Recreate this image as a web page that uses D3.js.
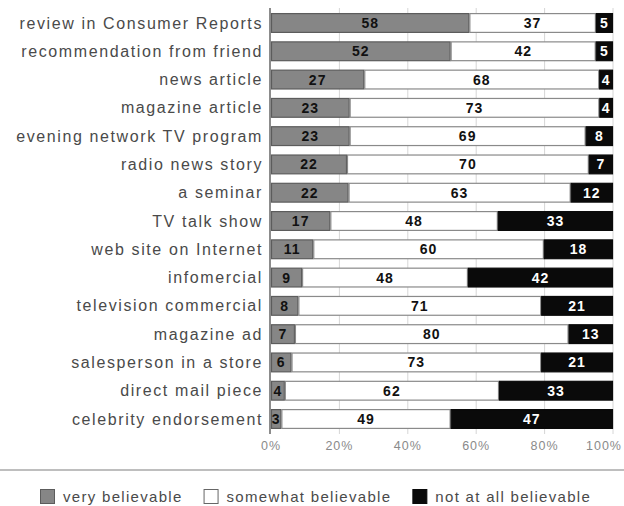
<!DOCTYPE html>
<html>
<head>
<meta charset="utf-8">
<script src="https://cdn.jsdelivr.net/npm/d3@7"></script>
<style>
  body { margin: 0; background: #fff; }
  text { font-family: "Liberation Sans", Arial, sans-serif; }
</style>
</head>
<body>
<div id="chart"></div>
<script>
// data (percent of respondents)
const categories = [
  "review in Consumer Reports", "recommendation from friend", "news article",
  "magazine article", "evening network TV program", "radio news story",
  "a seminar", "TV talk show", "web site on Internet", "infomercial",
  "television commercial", "magazine ad", "salesperson in a store",
  "direct mail piece", "celebrity endorsement"
];
const veryBelievable     = [58, 52, 27, 23, 23, 22, 22, 17, 11, 9, 8, 7, 6, 4, 3];
const somewhatBelievable = [37, 42, 68, 73, 69, 70, 63, 48, 60, 48, 71, 80, 73, 62, 49];
const notBelievable      = [5, 5, 4, 4, 8, 7, 12, 33, 18, 42, 21, 13, 21, 33, 47];
const seriesNames = ["very believable", "somewhat believable", "not at all believable"];
const tickValues = [0, 20, 40, 60, 80, 100];

const width = 624, height = 506;
const colors = { fill: ["#868686", "#ffffff", "#0a0a0a"], stroke: ["#5c5c5c", "#8a8a8a", "#0a0a0a"], text: ["#111", "#111", "#fff"] };

const svg = d3.select("#chart").append("svg")
    .attr("width", width)
    .attr("height", height);

const x = d3.scaleLinear().domain([0, 100]).range([271, 613]);
const y = d3.scaleBand().domain(categories).range([8, 434])
    .paddingInner(0.3).paddingOuter(0.18);

// build rows, bars are stretched to 100% of each row's total
const rows = categories.map((c, i) => {
    const vals = [veryBelievable[i], somewhatBelievable[i], notBelievable[i]];
    const total = d3.sum(vals);
    let acc = 0;
    const segs = vals.map((v, k) => {
        const s = { cat: c, k: k, v: v, x0: acc / total * 100, x1: (acc + v) / total * 100 };
        acc += v;
        return s;
    });
    return { cat: c, segs: segs };
});

// faint grid lines
svg.append("g").selectAll("line")
    .data(tickValues.slice(1))
    .enter().append("line")
    .attr("x1", d => x(d)).attr("x2", d => x(d))
    .attr("y1", 8).attr("y2", 434)
    .attr("stroke", "#d6d6d6")
    .attr("stroke-width", 1);

// bars
const row = svg.append("g").selectAll("g")
    .data(rows)
    .enter().append("g");

row.selectAll("rect")
    .data(d => d.segs)
    .enter().append("rect")
    .attr("x", d => x(d.x0) + 0.5)
    .attr("y", d => y(d.cat) + 0.5)
    .attr("width", d => x(d.x1) - x(d.x0) - 1)
    .attr("height", y.bandwidth() - 1)
    .attr("fill", d => colors.fill[d.k])
    .attr("stroke", d => colors.stroke[d.k])
    .attr("stroke-width", 1.2);

row.selectAll("text")
    .data(d => d.segs)
    .enter().append("text")
    .attr("x", d => (x(d.x0) + x(d.x1)) / 2)
    .attr("y", d => y(d.cat) + y.bandwidth() / 2)
    .attr("dy", "0.36em")
    .attr("text-anchor", "middle")
    .style("font-size", "14px")
    .style("font-weight", "bold")
    .style("letter-spacing", "1px")
    .attr("fill", d => colors.text[d.k])
    .text(d => d.v);

// category labels
svg.append("g").selectAll("text")
    .data(categories)
    .enter().append("text")
    .attr("x", 263)
    .attr("y", d => y(d) + y.bandwidth() / 2)
    .attr("dy", "0.35em")
    .attr("text-anchor", "end")
    .style("font-size", "16px")
    .style("letter-spacing", "1.6px")
    .attr("fill", "#4a4a4a")
    .text(d => d);

// left axis line
svg.append("line")
    .attr("x1", 270).attr("x2", 270)
    .attr("y1", 8).attr("y2", 434)
    .attr("stroke", "#666")
    .attr("stroke-width", 1.5);

// tick labels
svg.append("g").selectAll("text")
    .data(tickValues)
    .enter().append("text")
    .attr("x", d => x(d))
    .attr("y", 446)
    .attr("dy", "0.35em")
    .attr("text-anchor", "middle")
    .style("font-size", "12.5px")
    .style("letter-spacing", "1px")
    .attr("fill", "#8a8a8a")
    .text(d => d + "%")
    .each(function() {
        // keep the last label inside the picture
        const bb = this.getBBox();
        if (bb.x + bb.width > width - 2) d3.select(this).attr("x", +d3.select(this).attr("x") - (bb.x + bb.width - width + 2));
    });

// separator rule
svg.append("line")
    .attr("x1", 0).attr("x2", width)
    .attr("y1", 470).attr("y2", 470)
    .attr("stroke", "#a8a8a8")
    .attr("stroke-width", 1.5);

// legend
const legend = svg.append("g");
let lx = 40;
seriesNames.forEach((name, k) => {
    legend.append("rect")
        .attr("x", lx + 0.5).attr("y", 489.5)
        .attr("width", 14).attr("height", 14)
        .attr("fill", colors.fill[k])
        .attr("stroke", k === 1 ? "#666" : colors.stroke[k]);
    const t = legend.append("text")
        .attr("x", lx + 23)
        .attr("y", 497)
        .attr("dy", "0.35em")
        .style("font-size", "15px")
        .style("letter-spacing", "1.3px")
        .attr("fill", "#4a4a4a")
        .text(name);
    lx += 23 + t.node().getComputedTextLength() + 21;
});
</script>
</body>
</html>
